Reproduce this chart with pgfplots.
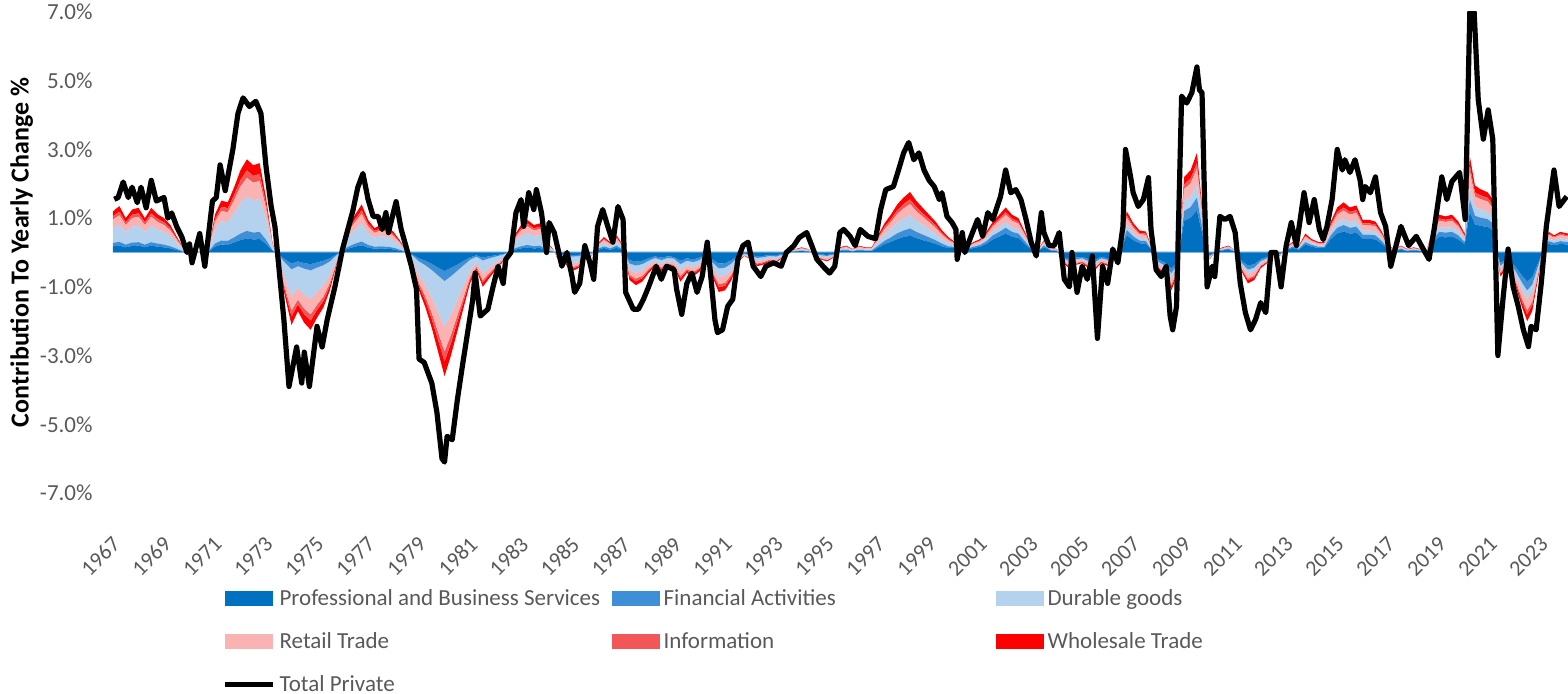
\documentclass[border=0pt]{standalone}
\usepackage{fontspec}
\setmainfont{Carlito}
\usepackage{pgfplots}
\usepackage{pgfplotstable}
\pgfplotsset{compat=1.18}
\definecolor{cPro}{HTML}{0070C0}
\definecolor{cFin}{HTML}{3F8FD6}
\definecolor{cDur}{HTML}{B4D2EE}
\definecolor{cRet}{HTML}{F9B3B3}
\definecolor{cInf}{HTML}{F25656}
\definecolor{cWhl}{HTML}{FF0000}
\definecolor{txt}{HTML}{595959}
\definecolor{zline}{HTML}{C5D9EE}
\pgfplotsset{
  swatch/.style={legend image code/.code={\fill[##1] (0pt,-3.75pt) rectangle (24pt,3.75pt);}},
  linesw/.style={legend image code/.code={\draw[##1] (0pt,0pt) -- (24pt,0pt);}}
}
\pgfplotstableread{
t pro fin dur ret inf whl
1967.0 0.18 0.10 0.44 0.24 0.10 0.14
1967.25 0.20 0.11 0.50 0.27 0.11 0.16
1967.5 0.15 0.08 0.37 0.20 0.08 0.12
1967.75 0.19 0.10 0.46 0.25 0.10 0.15
1968.0 0.20 0.10 0.48 0.26 0.10 0.16
1968.25 0.15 0.08 0.37 0.20 0.08 0.12
1968.5 0.20 0.10 0.48 0.26 0.10 0.16
1968.75 0.17 0.09 0.41 0.22 0.09 0.13
1969.0 0.15 0.08 0.37 0.20 0.08 0.12
1969.25 0.12 0.06 0.30 0.16 0.06 0.10
1969.5 0.07 0.04 0.17 0.09 0.04 0.05
1969.75 0.02 0.01 0.06 0.03 0.01 0.02
1970.0 0.01 0.00 0.02 0.01 0.00 0.01
1970.5 0.00 0.00 0.01 0.01 0.00 0.00
1970.75 0.02 0.01 0.04 0.02 0.01 0.01
1971.0 0.17 0.09 0.41 0.22 0.09 0.13
1971.25 0.23 0.12 0.56 0.30 0.12 0.18
1971.5 0.22 0.12 0.54 0.29 0.12 0.17
1971.75 0.29 0.15 0.70 0.38 0.15 0.23
1972.0 0.36 0.19 0.89 0.48 0.19 0.29
1972.25 0.41 0.22 1.00 0.54 0.22 0.32
1972.5 0.38 0.20 0.94 0.51 0.20 0.31
1972.75 0.39 0.21 0.96 0.52 0.21 0.31
1973.0 0.24 0.13 0.59 0.32 0.13 0.19
1973.25 0.05 0.02 0.11 0.06 0.02 0.04
1973.5 -0.05 -0.03 -0.13 -0.07 -0.03 -0.04
1973.75 -0.20 -0.10 -0.48 -0.26 -0.10 -0.16
1974.0 -0.32 -0.17 -0.78 -0.42 -0.17 -0.25
1974.25 -0.26 -0.14 -0.63 -0.34 -0.14 -0.20
1974.5 -0.31 -0.16 -0.76 -0.41 -0.16 -0.25
1974.75 -0.34 -0.18 -0.83 -0.45 -0.18 -0.27
1975.0 -0.29 -0.15 -0.70 -0.38 -0.15 -0.23
1975.25 -0.24 -0.13 -0.59 -0.32 -0.13 -0.19
1975.5 -0.17 -0.09 -0.41 -0.22 -0.09 -0.13
1975.75 -0.06 -0.03 -0.15 -0.08 -0.03 -0.05
1976.0 0.05 0.02 0.11 0.06 0.02 0.04
1976.25 0.12 0.06 0.30 0.16 0.06 0.10
1976.5 0.17 0.09 0.41 0.22 0.09 0.13
1976.75 0.21 0.11 0.52 0.28 0.11 0.17
1977.0 0.14 0.08 0.35 0.19 0.08 0.11
1977.25 0.11 0.06 0.26 0.14 0.06 0.08
1977.5 0.12 0.06 0.30 0.16 0.06 0.10
1977.75 0.11 0.06 0.28 0.15 0.06 0.09
1978.0 0.09 0.05 0.22 0.12 0.05 0.07
1978.25 0.05 0.03 0.13 0.07 0.03 0.04
1978.5 0.01 0.00 0.02 0.01 0.00 0.01
1978.75 -0.06 -0.03 -0.15 -0.08 -0.03 -0.05
1979.0 -0.17 -0.09 -0.41 -0.22 -0.09 -0.13
1979.25 -0.24 -0.13 -0.59 -0.32 -0.13 -0.19
1979.5 -0.33 -0.18 -0.81 -0.44 -0.18 -0.26
1979.75 -0.44 -0.23 -1.07 -0.58 -0.23 -0.35
1980.0 -0.54 -0.29 -1.33 -0.72 -0.29 -0.43
1980.25 -0.45 -0.24 -1.11 -0.60 -0.24 -0.36
1980.5 -0.35 -0.18 -0.85 -0.46 -0.18 -0.28
1980.75 -0.24 -0.13 -0.59 -0.32 -0.13 -0.19
1981.0 -0.14 -0.07 -0.33 -0.18 -0.07 -0.11
1981.25 -0.08 -0.04 -0.19 -0.10 -0.04 -0.06
1981.5 -0.15 -0.08 -0.37 -0.20 -0.08 -0.12
1981.75 -0.11 -0.06 -0.28 -0.15 -0.06 -0.09
1982.0 -0.08 -0.04 -0.19 -0.10 -0.04 -0.06
1982.25 -0.05 -0.02 -0.11 -0.06 -0.02 -0.04
1982.5 -0.01 0.00 -0.02 -0.01 0.00 -0.01
1982.75 0.08 0.04 0.19 0.10 0.04 0.06
1983.0 0.12 0.06 0.30 0.16 0.06 0.10
1983.25 0.14 0.08 0.35 0.19 0.08 0.11
1983.5 0.12 0.06 0.30 0.16 0.06 0.10
1983.75 0.13 0.07 0.31 0.17 0.07 0.10
1984.0 0.05 0.02 0.11 0.06 0.02 0.04
1984.25 0.02 0.01 0.04 0.02 0.01 0.01
1984.5 -0.05 -0.02 -0.11 -0.06 -0.02 -0.04
1984.75 -0.05 -0.03 -0.13 -0.07 -0.03 -0.04
1985.0 -0.08 -0.04 -0.20 -0.11 -0.04 -0.07
1985.25 -0.07 -0.04 -0.17 -0.09 -0.04 -0.05
1985.5 -0.03 -0.02 -0.07 -0.04 -0.02 -0.02
1985.75 -0.02 -0.01 -0.04 -0.02 -0.01 -0.01
1986.0 0.07 0.03 0.06 0.05 0.02 0.03
1986.25 0.13 0.05 0.10 0.08 0.04 0.05
1986.5 0.08 0.04 0.07 0.05 0.02 0.04
1986.75 0.14 0.06 0.11 0.09 0.04 0.06
1987.0 0.06 0.02 0.04 0.04 0.02 0.02
1987.25 -0.22 -0.10 -0.18 -0.14 -0.06 -0.10
1987.5 -0.27 -0.11 -0.21 -0.17 -0.08 -0.11
1987.75 -0.24 -0.10 -0.19 -0.15 -0.07 -0.10
1988.0 -0.17 -0.07 -0.13 -0.11 -0.05 -0.07
1988.25 -0.11 -0.05 -0.09 -0.07 -0.03 -0.05
1988.5 -0.15 -0.07 -0.12 -0.10 -0.04 -0.07
1988.75 -0.11 -0.05 -0.09 -0.07 -0.03 -0.05
1989.0 -0.13 -0.05 -0.10 -0.08 -0.04 -0.05
1989.25 -0.24 -0.10 -0.19 -0.15 -0.07 -0.10
1989.5 -0.17 -0.07 -0.13 -0.11 -0.05 -0.07
1989.75 -0.20 -0.08 -0.15 -0.13 -0.06 -0.08
1990.0 -0.15 -0.07 -0.12 -0.10 -0.04 -0.07
1990.25 -0.04 -0.02 -0.03 -0.03 -0.01 -0.02
1990.5 -0.20 -0.08 -0.15 -0.13 -0.06 -0.08
1990.75 -0.32 -0.14 -0.25 -0.21 -0.09 -0.14
1991.0 -0.31 -0.13 -0.24 -0.20 -0.09 -0.13
1991.25 -0.22 -0.10 -0.18 -0.14 -0.06 -0.10
1991.5 -0.08 -0.04 -0.07 -0.05 -0.02 -0.04
1991.75 -0.03 -0.01 -0.02 -0.02 -0.01 -0.01
1992.0 -0.06 -0.02 -0.04 -0.04 -0.02 -0.02
1992.25 -0.11 -0.05 -0.09 -0.07 -0.03 -0.05
1992.5 -0.10 -0.04 -0.08 -0.06 -0.03 -0.04
1992.75 -0.07 -0.03 -0.06 -0.05 -0.02 -0.03
1993.0 -0.08 -0.04 -0.07 -0.05 -0.02 -0.04
1993.25 -0.04 -0.02 -0.03 -0.03 -0.01 -0.02
1993.5 0.01 0.01 0.01 0.01 0.00 0.01
1993.75 0.03 0.01 0.02 0.02 0.01 0.01
1994.0 0.04 0.02 0.03 0.03 0.01 0.02
1994.25 0.03 0.01 0.02 0.02 0.01 0.01
1994.5 -0.03 -0.01 -0.02 -0.02 -0.01 -0.01
1994.75 -0.06 -0.02 -0.04 -0.04 -0.02 -0.02
1995.0 -0.07 -0.03 -0.06 -0.05 -0.02 -0.03
1995.25 -0.04 -0.02 -0.03 -0.03 -0.01 -0.02
1995.5 0.04 0.02 0.03 0.03 0.01 0.02
1995.75 0.06 0.02 0.04 0.04 0.02 0.02
1996.0 0.03 0.01 0.02 0.02 0.01 0.01
1996.25 0.06 0.02 0.04 0.04 0.02 0.02
1996.5 0.04 0.02 0.03 0.03 0.01 0.02
1996.75 0.04 0.02 0.03 0.03 0.01 0.02
1997.0 0.14 0.06 0.11 0.09 0.04 0.06
1997.25 0.24 0.10 0.19 0.15 0.07 0.10
1997.5 0.31 0.13 0.24 0.20 0.09 0.13
1997.75 0.39 0.17 0.31 0.25 0.11 0.17
1998.0 0.45 0.19 0.35 0.29 0.13 0.19
1998.25 0.49 0.21 0.39 0.32 0.14 0.21
1998.5 0.42 0.18 0.33 0.27 0.12 0.18
1998.75 0.36 0.16 0.29 0.23 0.10 0.16
1999.0 0.31 0.13 0.24 0.20 0.09 0.13
1999.25 0.25 0.11 0.20 0.16 0.07 0.11
1999.5 0.18 0.08 0.14 0.12 0.05 0.08
1999.75 0.13 0.05 0.10 0.08 0.04 0.05
2000.0 0.13 0.04 0.04 0.05 0.02 0.03
2000.25 0.06 0.02 0.02 0.02 0.01 0.02
2000.5 0.08 0.03 0.03 0.03 0.01 0.02
2000.75 0.13 0.04 0.04 0.05 0.02 0.03
2001.0 0.17 0.05 0.05 0.06 0.02 0.04
2001.25 0.25 0.08 0.08 0.10 0.04 0.06
2001.5 0.38 0.12 0.12 0.14 0.05 0.09
2001.75 0.46 0.14 0.14 0.18 0.07 0.11
2002.0 0.55 0.17 0.17 0.21 0.08 0.13
2002.25 0.46 0.14 0.14 0.18 0.07 0.11
2002.5 0.42 0.13 0.13 0.16 0.06 0.10
2002.75 0.25 0.08 0.08 0.10 0.04 0.06
2003.0 0.08 0.03 0.03 0.03 0.01 0.02
2003.25 0.02 0.01 0.01 0.01 0.00 0.00
2003.5 0.15 0.05 0.05 0.06 0.02 0.03
2003.75 0.06 0.02 0.02 0.02 0.01 0.02
2004.0 0.04 0.01 0.01 0.02 0.01 0.01
2004.25 -0.13 -0.04 -0.04 -0.05 -0.02 -0.03
2004.5 -0.19 -0.06 -0.06 -0.07 -0.03 -0.05
2004.75 -0.15 -0.05 -0.05 -0.06 -0.02 -0.03
2005.0 -0.13 -0.04 -0.04 -0.05 -0.02 -0.03
2005.25 -0.19 -0.06 -0.06 -0.07 -0.03 -0.05
2005.5 -0.21 -0.07 -0.07 -0.08 -0.03 -0.05
2005.75 -0.13 -0.04 -0.04 -0.05 -0.02 -0.03
2006.0 -0.17 -0.05 -0.05 -0.06 -0.02 -0.04
2006.25 -0.06 -0.02 -0.02 -0.02 -0.01 -0.02
2006.5 0.04 0.01 0.01 0.02 0.01 0.01
2006.75 0.50 0.16 0.16 0.19 0.07 0.12
2007.0 0.36 0.11 0.11 0.14 0.05 0.09
2007.25 0.27 0.08 0.08 0.10 0.04 0.07
2007.5 0.25 0.08 0.08 0.10 0.04 0.06
2007.75 0.04 0.01 0.01 0.02 0.01 0.01
2008.0 -0.21 -0.07 -0.07 -0.08 -0.03 -0.05
2008.25 -0.29 -0.09 -0.09 -0.11 -0.04 -0.07
2008.5 -0.46 -0.14 -0.14 -0.18 -0.07 -0.11
2008.75 -0.25 -0.08 -0.08 -0.10 -0.04 -0.06
2009.0 0.92 0.29 0.29 0.35 0.13 0.22
2009.25 1.01 0.31 0.31 0.38 0.14 0.24
2009.5 1.22 0.38 0.38 0.46 0.17 0.29
2009.75 0.42 0.13 0.13 0.16 0.06 0.10
2010.0 -0.08 -0.03 -0.03 -0.03 -0.01 -0.02
2010.25 0.02 0.01 0.01 0.01 0.00 0.00
2010.5 0.06 0.02 0.02 0.02 0.01 0.02
2010.75 0.08 0.03 0.03 0.03 0.01 0.02
2011.0 0.02 0.01 0.01 0.01 0.00 0.00
2011.25 -0.23 -0.07 -0.07 -0.09 -0.03 -0.06
2011.5 -0.38 -0.12 -0.12 -0.14 -0.05 -0.09
2011.75 -0.34 -0.10 -0.10 -0.13 -0.05 -0.08
2012.0 -0.19 -0.06 -0.06 -0.07 -0.03 -0.05
2012.25 -0.13 -0.04 -0.04 -0.05 -0.02 -0.03
2012.5 0.00 0.00 0.00 0.00 0.00 0.00
2012.75 -0.04 -0.01 -0.01 -0.02 -0.01 -0.01
2013.0 0.06 0.02 0.02 0.02 0.01 0.02
2013.25 0.13 0.04 0.04 0.05 0.02 0.03
2013.5 0.08 0.03 0.03 0.03 0.01 0.02
2013.75 0.23 0.07 0.07 0.09 0.03 0.06
2014.0 0.17 0.05 0.05 0.06 0.02 0.04
2014.25 0.13 0.04 0.04 0.05 0.02 0.03
2014.5 0.13 0.04 0.04 0.05 0.02 0.03
2014.75 0.38 0.12 0.12 0.14 0.05 0.09
2015.0 0.55 0.17 0.17 0.21 0.08 0.13
2015.25 0.61 0.19 0.19 0.23 0.09 0.15
2015.5 0.55 0.17 0.17 0.21 0.08 0.13
2015.75 0.57 0.18 0.18 0.22 0.08 0.14
2016.0 0.40 0.12 0.12 0.15 0.06 0.10
2016.25 0.40 0.12 0.12 0.15 0.06 0.10
2016.5 0.38 0.12 0.12 0.14 0.05 0.09
2016.75 0.25 0.08 0.08 0.10 0.04 0.06
2017.0 0.08 0.03 0.03 0.03 0.01 0.02
2017.25 0.04 0.01 0.01 0.02 0.01 0.01
2017.5 0.08 0.03 0.03 0.03 0.01 0.02
2017.75 0.04 0.01 0.01 0.02 0.01 0.01
2018.0 0.06 0.02 0.02 0.02 0.01 0.02
2018.25 0.04 0.01 0.01 0.02 0.01 0.01
2018.5 0.02 0.01 0.01 0.01 0.00 0.00
2018.75 0.29 0.09 0.09 0.11 0.04 0.07
2019.0 0.46 0.14 0.14 0.18 0.07 0.11
2019.25 0.44 0.14 0.14 0.17 0.06 0.10
2019.5 0.46 0.14 0.14 0.18 0.07 0.11
2019.75 0.38 0.12 0.12 0.14 0.05 0.09
2020.0 0.23 0.07 0.07 0.09 0.03 0.06
2020.2 1.18 0.36 0.36 0.45 0.17 0.28
2020.4 0.82 0.25 0.25 0.31 0.12 0.20
2020.6 0.78 0.24 0.24 0.30 0.11 0.18
2020.9 0.74 0.23 0.23 0.28 0.11 0.16
2021.1 0.65 0.20 0.20 0.25 0.09 0.16
2021.25 0.00 0.00 0.00 0.00 0.00 0.00
2021.4 -0.29 -0.09 -0.09 -0.11 -0.04 -0.08
2021.7 -0.17 -0.05 -0.05 -0.06 -0.02 -0.05
2022.0 -0.42 -0.13 -0.13 -0.16 -0.06 -0.10
2022.25 -0.67 -0.21 -0.21 -0.26 -0.10 -0.15
2022.45 -0.84 -0.26 -0.26 -0.32 -0.12 -0.20
2022.65 -0.71 -0.22 -0.22 -0.27 -0.10 -0.18
2022.9 -0.27 -0.08 -0.08 -0.10 -0.04 -0.08
2023.1 0.13 0.04 0.04 0.05 0.02 0.02
2023.3 0.25 0.08 0.08 0.10 0.04 0.05
2023.5 0.21 0.07 0.07 0.08 0.03 0.04
2023.75 0.25 0.08 0.08 0.10 0.04 0.05
2024.05 0.23 0.07 0.07 0.09 0.03 0.06
}\stackdata

\begin{document}
\begin{tikzpicture}
\begin{axis}[
  scale only axis, width=727.5pt, height=240.5pt,
  xmin=1967, xmax=2024.05, ymin=-7, ymax=7,
  stack plots=y,
  axis line style={draw=none},
  major tick length=0pt,
  xtick={1967,1969,1971,1973,1975,1977,1979,1981,1983,1985,1987,1989,1991,1993,1995,1997,1999,2001,2003,2005,2007,2009,2011,2013,2015,2017,2019,2021,2023},
  xticklabels={1967,1969,1971,1973,1975,1977,1979,1981,1983,1985,1987,1989,1991,1993,1995,1997,1999,2001,2003,2005,2007,2009,2011,2013,2015,2017,2019,2021,2023},
  ytick={-7,-5,-3,-1,1,3,5,7},
  yticklabels={-7.0\%,-5.0\%,-3.0\%,-1.0\%,1.0\%,3.0\%,5.0\%,7.0\%},
  xticklabel style={xshift=-1pt, yshift=-21pt, rotate=45, anchor=north east, inner sep=0pt, font=\fontsize{11}{12}\selectfont, text=txt},
  yticklabel style={inner sep=0pt, xshift=-10pt, anchor=east, font=\fontsize{11.5}{13}\selectfont, text=txt},
  ylabel={Contribution To Yearly Change \%},
  ylabel style={font=\fontsize{13}{15}\selectfont\bfseries, text=black},
  legend columns=3,
  legend cell align=left,
  legend style={draw=none, fill=none, at={(axis description cs:0,0)}, anchor=north west,
    xshift=54.5pt, yshift=-46pt, inner sep=0pt,
    font=\fontsize{11.5}{13}\selectfont, text=txt,
    /tikz/every even column/.append style={column sep=0pt},
    /tikz/row sep=8pt},
]
\addplot[fill=cPro, draw=none, swatch] table[x=t, y=pro] {\stackdata} \closedcycle;
\addlegendentry{\makebox[164pt][l]{Professional and Business Services}}
\addplot[fill=cFin, draw=none, swatch] table[x=t, y=fin] {\stackdata} \closedcycle;
\addlegendentry{\makebox[164pt][l]{Financial Activities}}
\addplot[fill=cDur, draw=none, swatch] table[x=t, y=dur] {\stackdata} \closedcycle;
\addlegendentry{Durable goods}
\addplot[fill=cRet, draw=none, swatch] table[x=t, y=ret] {\stackdata} \closedcycle;
\addlegendentry{\makebox[164pt][l]{Retail Trade}}
\addplot[fill=cInf, draw=none, swatch] table[x=t, y=inf] {\stackdata} \closedcycle;
\addlegendentry{\makebox[164pt][l]{Information}}
\addplot[fill=cWhl, draw=none, swatch] table[x=t, y=whl] {\stackdata} \closedcycle;
\addlegendentry{Wholesale Trade}
\addlegendimage{black, line width=2.6pt, linesw}
\addlegendentry{Total Private}
\draw[zline, line width=1pt] (axis cs:1967,0) -- (axis cs:2024.05,0);
\coordinate (SW) at (rel axis cs:0,0);
\coordinate (NE) at (rel axis cs:1,1);
\end{axis}
\begin{axis}[
  scale only axis, width=727.5pt, height=240.5pt,
  xmin=1967, xmax=2024.05, ymin=-7, ymax=7,
  hide axis,
]
\addplot[black, line width=2.6pt, line join=round] coordinates {
(1967.05,1.55)(1967.2,1.6)(1967.4,2.05)(1967.6,1.6)(1967.75,1.9)(1967.95,1.45)(1968.1,1.9)(1968.3,1.3)(1968.5,2.1)(1968.7,1.5)
(1969.0,1.6)(1969.15,1.0)(1969.3,1.15)(1969.5,0.75)(1969.7,0.45)(1969.9,0.0)(1970.0,0.25)(1970.1,-0.3)(1970.4,0.55)(1970.6,-0.4)
(1970.9,1.5)(1971.05,1.6)(1971.2,2.55)(1971.4,1.8)(1971.7,3.0)(1971.9,4.05)(1972.1,4.5)(1972.35,4.25)(1972.6,4.4)(1972.8,4.05)
(1973.0,2.5)(1973.2,1.35)(1973.35,0.75)(1973.5,-0.4)(1973.7,-1.95)(1973.9,-3.9)(1974.2,-2.75)(1974.4,-3.8)(1974.5,-2.9)(1974.7,-3.9)
(1975.0,-2.15)(1975.2,-2.75)(1975.4,-1.95)(1975.7,-1.0)(1976.0,0.1)(1976.2,0.65)(1976.4,1.2)(1976.6,1.9)(1976.8,2.3)(1977.0,1.55)
(1977.2,1.05)(1977.4,1.05)(1977.55,0.67)(1977.7,1.16)(1977.8,0.58)(1978.1,1.48)(1978.3,0.67)(1978.5,0.15)(1978.7,-0.4)(1978.9,-1.07)
(1979.0,-3.1)(1979.2,-3.2)(1979.5,-3.8)(1979.7,-4.65)(1979.9,-6.0)(1980.0,-6.1)(1980.1,-5.35)(1980.3,-5.45)(1980.5,-4.3)(1980.7,-3.3)
(1980.9,-2.35)(1981.1,-1.4)(1981.2,-0.6)(1981.4,-1.85)(1981.7,-1.65)(1981.9,-1.0)(1982.1,-0.4)(1982.3,-0.9)(1982.4,-0.2)(1982.6,0.0)
(1982.8,1.16)(1983.0,1.54)(1983.1,0.76)(1983.3,1.74)(1983.5,1.25)(1983.6,1.83)(1983.8,1.16)(1984.0,0.0)(1984.1,0.87)(1984.3,0.58)
(1984.6,-0.4)(1984.8,0.0)(1985.0,-0.7)(1985.1,-1.16)(1985.3,-0.9)(1985.5,0.2)(1985.7,-0.3)(1985.85,-0.78)(1986.0,0.76)(1986.2,1.25)
(1986.4,0.76)(1986.6,0.3)(1986.8,1.34)(1987.0,0.96)(1987.1,-1.16)(1987.4,-1.65)(1987.6,-1.65)(1987.8,-1.36)(1988.0,-1.0)(1988.3,-0.4)
(1988.5,-0.78)(1988.7,-0.4)(1989.0,-0.5)(1989.1,-1.07)(1989.3,-1.8)(1989.5,-0.9)(1989.7,-0.6)(1989.9,-1.16)(1990.1,-0.7)(1990.3,0.3)
(1990.4,-0.4)(1990.6,-1.95)(1990.7,-2.33)(1990.9,-2.25)(1991.1,-1.57)(1991.3,-1.36)(1991.5,-0.2)(1991.7,0.2)(1991.9,0.3)(1992.1,-0.4)
(1992.4,-0.7)(1992.6,-0.4)(1992.9,-0.3)(1993.2,-0.4)(1993.4,0.0)(1993.7,0.2)(1993.9,0.43)(1994.2,0.58)(1994.4,0.2)(1994.6,-0.2)
(1994.9,-0.45)(1995.1,-0.6)(1995.3,-0.4)(1995.5,0.58)(1995.65,0.67)(1995.9,0.47)(1996.1,0.2)(1996.3,0.67)(1996.6,0.47)(1996.9,0.4)
(1997.1,1.25)(1997.3,1.83)(1997.6,1.92)(1997.8,2.4)(1998.0,2.9)(1998.2,3.2)(1998.4,2.7)(1998.6,2.9)(1998.8,2.4)(1999.0,2.1)
(1999.2,1.92)(1999.4,1.54)(1999.5,1.74)(1999.7,1.05)(1999.9,0.87)(2000.05,0.67)(2000.1,-0.2)(2000.3,0.58)(2000.4,0.0)(2000.7,0.58)
(2000.9,0.96)(2001.1,0.47)(2001.3,1.16)(2001.5,0.96)(2001.8,1.63)(2002.0,2.4)(2002.2,1.74)(2002.4,1.83)(2002.6,1.54)(2002.8,0.96)
(2003.0,0.3)(2003.2,-0.1)(2003.4,1.16)(2003.5,0.58)(2003.7,0.2)(2003.9,0.2)(2004.1,0.58)(2004.3,-0.78)(2004.5,-1.0)(2004.6,0.0)
(2004.8,-1.16)(2005.0,-0.4)(2005.2,-0.78)(2005.4,-0.1)(2005.6,-2.5)(2005.8,-0.4)(2006.0,-0.9)(2006.2,0.1)(2006.4,-0.3)(2006.6,0.76)
(2006.7,3.0)(2006.9,2.2)(2007.0,1.74)(2007.2,1.34)(2007.4,1.54)(2007.6,2.18)(2007.7,0.67)(2007.9,-0.5)(2008.1,-0.7)(2008.3,-0.4)
(2008.45,-1.85)(2008.55,-2.25)(2008.7,-1.57)(2008.9,4.55)(2009.1,4.35)(2009.3,4.65)(2009.5,5.4)(2009.6,4.73)(2009.7,4.65)(2009.8,1.54)
(2009.9,-1.0)(2010.1,-0.4)(2010.2,-0.7)(2010.4,1.05)(2010.6,0.96)(2010.8,1.05)(2011.0,0.58)(2011.2,-0.9)(2011.4,-1.75)(2011.6,-2.25)
(2011.8,-1.95)(2012.0,-1.46)(2012.2,-1.75)(2012.4,0.0)(2012.6,0.0)(2012.8,-1.0)(2013.0,0.2)(2013.2,0.87)(2013.4,0.2)(2013.7,1.74)
(2013.9,0.87)(2014.1,1.54)(2014.3,0.67)(2014.45,0.38)(2014.6,0.76)(2014.8,1.54)(2015.0,3.0)(2015.2,2.4)(2015.3,2.7)(2015.5,2.33)
(2015.7,2.7)(2015.9,2.1)(2016.0,1.54)(2016.1,1.92)(2016.3,1.74)(2016.5,2.2)(2016.7,1.16)(2016.9,0.76)(2017.1,-0.4)(2017.5,0.76)
(2017.8,0.2)(2018.1,0.47)(2018.3,0.2)(2018.6,-0.2)(2018.8,0.67)(2019.1,2.2)(2019.3,1.54)(2019.5,2.07)(2019.8,2.33)(2020.02,0.96)
(2020.2,7.0)(2020.37,7.0)(2020.53,4.45)(2020.73,3.3)(2020.92,4.15)(2021.1,3.3)(2021.3,-3.0)(2021.5,-1.36)(2021.7,0.1)(2021.9,-1.0)
(2022.1,-1.57)(2022.3,-2.25)(2022.5,-2.74)(2022.6,-2.15)(2022.8,-2.25)(2023.0,-0.9)(2023.2,0.76)(2023.5,2.4)(2023.7,1.34)(2024.0,1.63)
};
\end{axis}
\pgfresetboundingbox
\path[use as bounding box] ([shift={(-56.5pt,-100.5pt)}]SW) rectangle ([shift={(0pt,6pt)}]NE);
\end{tikzpicture}
\end{document}
